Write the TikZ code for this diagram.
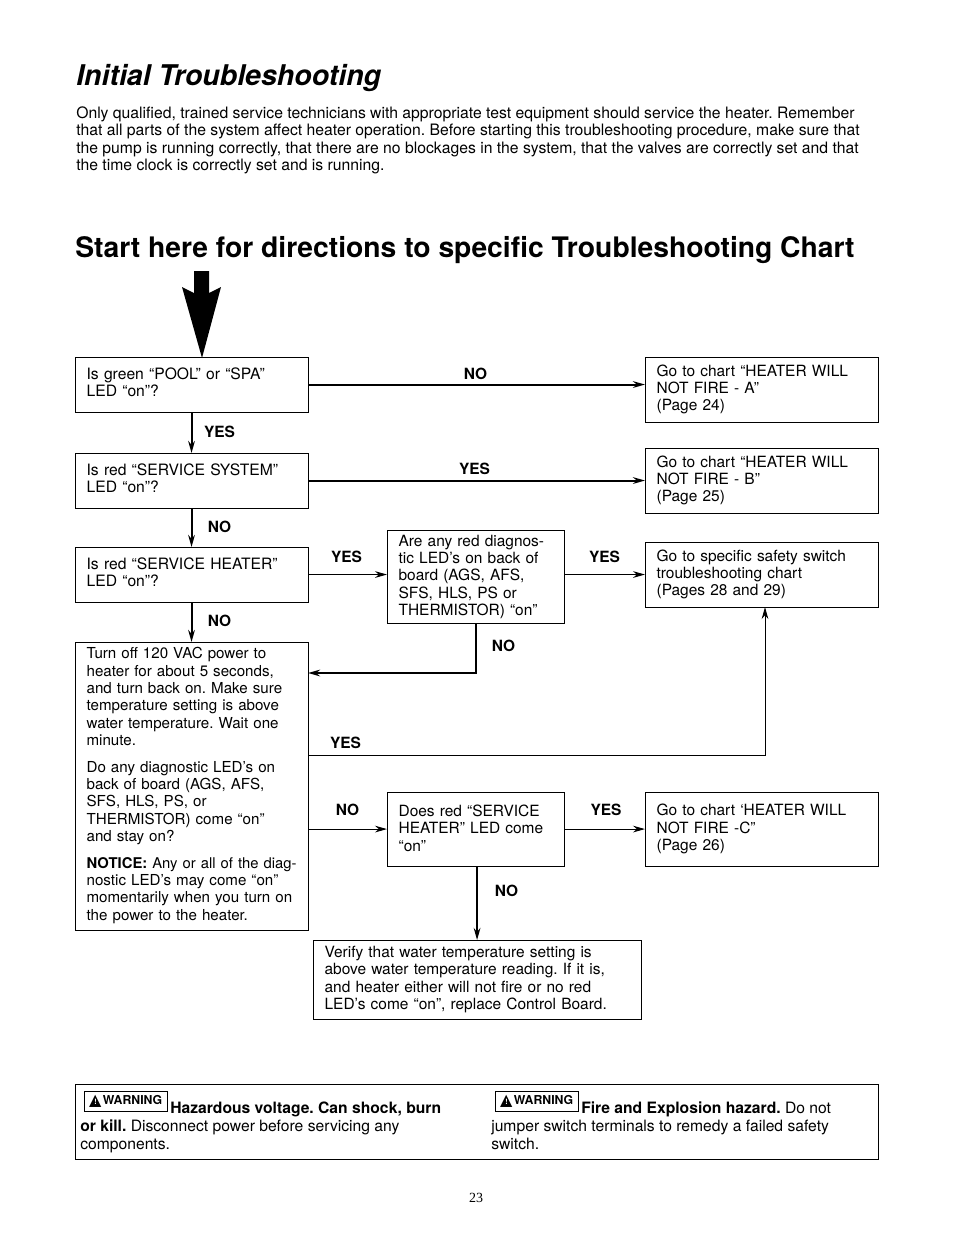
\documentclass[tikz,border=0pt]{standalone}
\usepackage{fontspec}
\setmainfont{TeX Gyre Heros}
\newfontfamily\symfont{DejaVu Sans}
\newfontfamily\pagefont{Liberation Serif}
\usetikzlibrary{arrows.meta,positioning}

\newcommand{\warnmark}{\raisebox{-0.6pt}{\rlap{\symfont\fontsize{12}{12}\selectfont ▲}%
  \makebox[9.7pt][c]{\raisebox{0.6pt}{\textcolor{white}{\fontsize{5.5}{6}\selectfont !}}}}\kern0.6pt WARNING}
\newcommand{\pad}[1]{\\[\dimexpr#1-13pt\relax]\null}

\begin{document}
\frenchspacing
\begin{tikzpicture}[
  x=0.75pt, y=-0.75pt,
  chartbox/.style={rectangle, draw=black, line width=0.7pt, fill=white, anchor=north west, outer sep=0pt,
              align=left, font=\fontsize{11.6}{13}\selectfont, inner xsep=8.7pt, inner ysep=2pt,
              text width=157.4pt, minimum height=41.3pt},
  askbox/.style={chartbox, font=\fontsize{11.75}{13}\selectfont},
  gobox/.style={chartbox, minimum height=48.8pt},
  lbl/.style={font=\fontsize{11.6}{13}\selectfont\bfseries, inner sep=0pt},
  plain/.style={anchor=north west, align=left, inner sep=0pt, font=\fontsize{11.75}{13}\selectfont},
  badge/.style={rectangle, draw=black, line width=0.7pt, anchor=north west, inner sep=0pt, outer sep=0pt,
              minimum width=62.5pt, minimum height=15.5pt, font=\fontsize{9.2}{10}\selectfont\bfseries},
  arr/.style={-{Stealth[length=9pt,width=5pt]}, line width=1.5pt},
  tarr/.style={-{Stealth[length=9pt,width=5pt]}, line width=0.75pt},
]
\useasboundingbox (0,0) rectangle (954,1235);

%% Headings and intro
\node[plain, font=\fontsize{21.4}{26}\selectfont\bfseries\itshape] (title) at (76,64) {Initial Troubleshooting};
\node[plain, font=\fontsize{11.8}{13}\selectfont] (intro) at (76,106.5) {%
  Only qualified, trained service technicians with appropriate test equipment should service the heater. Remember\\
  that all parts of the system affect heater operation. Before starting this troubleshooting procedure, make sure that\\
  the pump is running correctly, that there are no blockages in the system, that the valves are correctly set and that\\
  the time clock is correctly set and is running.};
\node[plain, font=\fontsize{21.2}{24}\selectfont\bfseries] (start) at (75,236.5) {Start here for directions to specific Troubleshooting Chart};

%% Left column
\node[askbox] (pool) at (75,357) {Is green “POOL” or “SPA”\\LED “on”?\pad{3.5pt}};
\node[askbox] (sysled) at (75,453) {Is red “SERVICE SYSTEM”\\LED “on”?\pad{3.5pt}};
\node[askbox] (heatled) at (75,547) {Is red “SERVICE HEATER”\\LED “on”?\pad{3.5pt}};
\node[chartbox, font=\fontsize{11.35}{13}\selectfont, minimum height=216.1pt] (poweroff) at (75,642) {%
  Turn off 120 VAC power to\\
  heater for about 5 seconds,\\
  and turn back on. Make sure\\
  temperature setting is above\\
  water temperature. Wait one\\
  minute.\\[7pt]
  Do any diagnostic LED’s on\\
  back of board (AGS, AFS,\\
  SFS, HLS, PS, or\\
  THERMISTOR) come “on”\\
  and stay on?\\[7pt]
  \mbox{\fontsize{11.1}{13}\selectfont\textbf{NOTICE:} Any or all of the diag-}\\
  nostic LED’s may come “on”\\
  momentarily when you turn on\\
  the power to the heater.\pad{3.5pt}};

%% Middle column
\node[chartbox, text width=115.4pt, minimum height=70.3pt] (diag) at (387,530) {%
  Are any red diagnos-\\
  tic LED’s on back of\\
  board (AGS, AFS,\\
  SFS, HLS, PS or\\
  THERMISTOR) “on”};
\node[chartbox, text width=115.4pt, minimum height=55.6pt] (redled) at (387,792) {%
  Does red “SERVICE\\
  HEATER” LED come\\
  “on”\pad{1.5pt}};
\node[chartbox, text width=228.7pt, minimum height=59.3pt] (verify) at (313,940) {%
  Verify that water temperature setting is\\
  above water temperature reading. If it is,\\
  and heater either will not fire or no red\\
  LED’s come “on”, replace Control Board.\pad{2.5pt}};

%% Right column
\node[gobox] (chartA) at (645,357) {Go to chart “HEATER WILL\\NOT FIRE - A”\\(Page 24)\\[2pt]};
\node[gobox] (chartB) at (645,448) {Go to chart “HEATER WILL\\NOT FIRE - B”\\(Page 25)\\[2pt]};
\node[gobox] (chartsafe) at (645,542) {Go to specific safety switch\\troubleshooting chart\\(Pages 28 and 29)\\[2pt]};
\node[chartbox, minimum height=55.6pt] (chartC) at (645,792) {Go to chart ‘HEATER WILL\\NOT FIRE -C”\\(Page 26)\\[6pt]};

%% Big start arrow
\fill[black] (194,271) -- (209,271) -- (209,293) -- (221,287) -- (202,358)
  -- (182,287) -- (194,293) -- cycle;

%% Arrows
\draw[arr] (pool.east) -- (pool.east -| chartA.west);
\draw[arr] (pool.south) -- (sysled.north);
\draw[arr] (sysled.east) -- (sysled.east -| chartB.west);
\draw[arr] (sysled.south) -- (heatled.north);
\draw[arr] (heatled.south) -- (poweroff.north);
\draw[tarr] (heatled.east) -- (heatled.east -| diag.west);
\draw[tarr] (diag.east |- chartsafe.west) -- (chartsafe.west);

\coordinate (backturn) at (476,673);
\draw[arr] (backturn |- diag.south) -- (backturn) -- (backturn -| poweroff.east);

\coordinate (yesturn) at (765,755);
\draw[tarr] (yesturn -| poweroff.east) -- (yesturn) -- (yesturn |- chartsafe.south);

\draw[tarr] (poweroff.east |- redled.west) -- (redled.west);
\draw[tarr] (redled.east) -- (chartC.west);
\draw[arr] (verify.north |- redled.south) -- (verify.north);

%% Connector labels
\node[lbl] (l1) at (475.5,374) {NO};
\node[lbl] (l2) at (219.5,432) {YES};
\node[lbl] (l3) at (474.5,469) {YES};
\node[lbl] (l4) at (219.5,527) {NO};
\node[lbl] (l5) at (346.5,557) {YES};
\node[lbl] (l6) at (604.5,557) {YES};
\node[lbl] (l7) at (219.5,621) {NO};
\node[lbl] (l8) at (503.5,646) {NO};
\node[lbl] (l9) at (345.5,743) {YES};
\node[lbl] (l10) at (347.5,810) {NO};
\node[lbl] (l11) at (606,810) {YES};
\node[lbl] (l12) at (506.5,891) {NO};

%% Warnings
\node[rectangle, draw=black, line width=0.7pt, anchor=north west, inner sep=0pt, outer sep=0pt,
      minimum width=602.6pt, minimum height=56.6pt] (warnbox) at (75,1084) {};
\node[badge] (warnA) at (84,1091) {\warnmark};
\node[badge] (warnB) at (495,1091) {\warnmark};
\node[plain] (warntxtA) at (80,1101.5) {%
  \hspace*{67.5pt}\textbf{Hazardous voltage. Can shock, burn}\\[0.5pt]
  \textbf{or kill.} Disconnect power before servicing any\\[0.5pt]
  components.};
\node[plain] (warntxtB) at (491,1101.5) {%
  \hspace*{67.5pt}\textbf{Fire and Explosion hazard.} Do not\\[0.5pt]
  jumper switch terminals to remedy a failed safety\\[0.5pt]
  switch.};

\node[font=\pagefont\fontsize{10.5}{12}\selectfont, inner sep=0pt] (pagenum) at (476,1198) {23};

\end{tikzpicture}
\end{document}
